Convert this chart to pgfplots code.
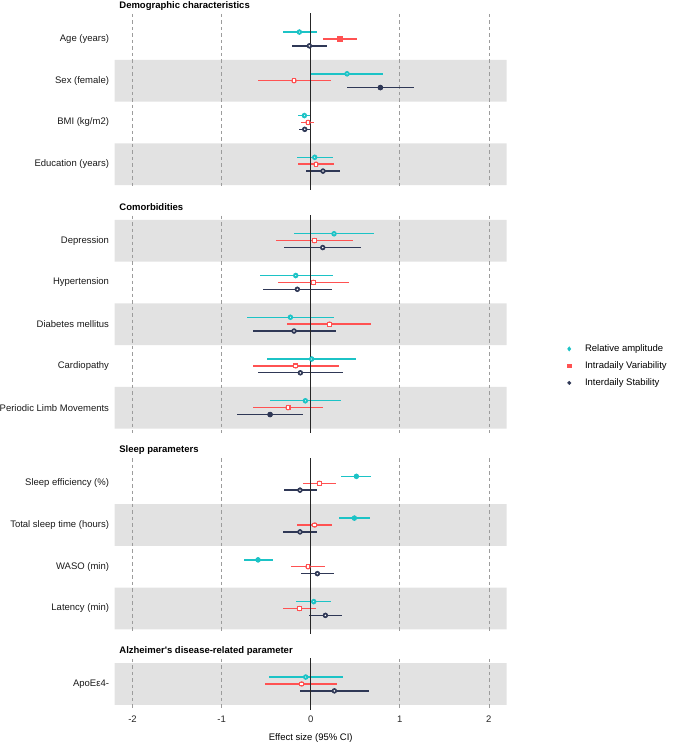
\documentclass[border=0pt]{standalone}
\usepackage{fontspec}
\setmainfont{Liberation Sans}
\usepackage{pgfplots}
\usepackage{pgfplotstable}
\pgfplotsset{compat=1.18}
\definecolor{cy}{HTML}{1CC3C6}
\definecolor{rd}{HTML}{FF5252}
\definecolor{nv}{HTML}{2F3856}
\definecolor{band}{HTML}{E2E2E2}
\definecolor{gridc}{HTML}{9C9C9C}

% row  RelAmp (x lo hi sig)  IntraVar (x lo hi sig)  InterStab (x lo hi sig); sig: 1 = filled marker
\pgfplotstableread{
row cx clo chi cs rx rlo rhi rs nx nlo nhi ns
1 -0.127 -0.314 0.071 0 0.325 0.138 0.520 1 -0.015 -0.210 0.187 0
2 0.408 0.000 0.808 0 -0.187 -0.591 0.224 0 0.782 0.408 1.160 1
3 -0.071 -0.142 -0.007 0 -0.030 -0.105 0.041 0 -0.067 -0.135 -0.007 0
4 0.045 -0.157 0.254 0 0.060 -0.138 0.258 0 0.138 -0.049 0.329 0
}\demo
\pgfplotstableread{
row cx clo chi cs rx rlo rhi rs nx nlo nhi ns
1 0.262 -0.183 0.707 0 0.041 -0.393 0.479 0 0.135 -0.296 0.565 0
2 -0.168 -0.572 0.247 0 0.030 -0.367 0.426 0 -0.150 -0.531 0.243 0
3 -0.228 -0.718 0.262 0 0.210 -0.266 0.681 0 -0.187 -0.651 0.281 0
4 0.011 -0.486 0.509 0 -0.168 -0.643 0.314 0 -0.116 -0.587 0.359 0
5 -0.060 -0.453 0.337 0 -0.254 -0.643 0.138 0 -0.456 -0.823 -0.090 1
}\comor
\pgfplotstableread{
row cx clo chi cs rx rlo rhi rs nx nlo nhi ns
1 0.513 0.340 0.677 1 0.097 -0.090 0.288 0 -0.120 -0.303 0.067 0
2 0.490 0.318 0.662 1 0.045 -0.150 0.243 0 -0.120 -0.310 0.071 0
3 -0.591 -0.744 -0.426 1 -0.030 -0.224 0.157 0 0.075 -0.108 0.262 0
4 0.034 -0.161 0.232 0 -0.127 -0.314 0.064 0 0.165 -0.015 0.348 0
}\sleep
\pgfplotstableread{
row cx clo chi cs rx rlo rhi rs nx nlo nhi ns
1 -0.056 -0.468 0.359 0 -0.101 -0.509 0.299 0 0.266 -0.123 0.655 0
}\alz

\newcommand{\fs}{\fontsize{9.5bp}{11bp}\selectfont}

\pgfplotsset{
  panel/.style={
    scale only axis, width=392bp,
    xmin=-2.2, xmax=2.2, y dir=reverse,
    xtick={-2,-1,0,1,2}, xticklabels={},
    xmajorgrids, ymajorgrids=false,
    major grid style={dash pattern=on 3.5bp off 3bp, color=gridc, line width=0.65bp},
    axis line style={draw=none}, tick style={draw=none},
    yticklabel style={anchor=east, inner sep=0pt, xshift=-5.5bp, font=\fs, text=black!90},
    xticklabel style={anchor=north, inner sep=0pt, yshift=-6.9bp, font=\fs, text=black!85},
    title style={at={(0,1)}, anchor=base west, xshift=4.5bp, yshift=-0.5bp, inner sep=0pt, font=\fs\bfseries},
    set layers,
  },
  bandp/.style={on layer=axis background, fill=band, draw=none, forget plot},
  zline/.style={color=black!85, line width=0.9bp, forget plot},
  bars/.style={only marks, mark=none, forget plot, color=#1, line width=1.4bp,
    error bars/.cd, x dir=both, x explicit, error mark=none,
    error bar style={line width=1.4bp, color=#1}},
  openm/.style 2 args={only marks, forget plot, mark=#2, mark size=1.9bp,
    mark options={draw=#1, fill=white, line width=1.1bp}},
  fillm/.style 2 args={only marks, forget plot, mark=#2, mark size=2.4bp,
    mark options={draw=#1, fill=#1, line width=0.5bp}},
}

% #1 table, #2 x col, #3 lo col, #4 hi col, #5 sig col, #6 offset, #7 colour, #8 mark
\newcommand{\oneseries}[8]{%
  \addplot[bars=#7] table[x=#2, y expr=\thisrow{row}+#6,
    x error plus expr=\thisrow{#4}-\thisrow{#2}, x error minus expr=\thisrow{#2}-\thisrow{#3}] {#1};
  \addplot[openm={#7}{#8}, restrict expr to domain={\thisrow{#5}}{-0.5:0.5}]
    table[x=#2, y expr=\thisrow{row}+#6] {#1};
  \addplot[fillm={#7}{#8}, restrict expr to domain={\thisrow{#5}}{0.5:1.5}]
    table[x=#2, y expr=\thisrow{row}+#6] {#1};
}
\newcommand{\series}[1]{%
  \oneseries{#1}{cx}{clo}{chi}{cs}{-0.165}{cy}{diamond*}
  \oneseries{#1}{rx}{rlo}{rhi}{rs}{0}{rd}{square*}
  \oneseries{#1}{nx}{nlo}{nhi}{ns}{0.165}{nv}{*}
  \addplot[zline] coordinates {(0,-1) (0,10)};
}

\begin{document}
\begin{tikzpicture}

% Panel 1
\begin{axis}[panel, at={(114.7bp,-13.9bp)}, anchor=north west, height=175.35bp,
  ymin=0.4, ymax=4.6, ytick={1,2,3,4},
  yticklabels={Age (years), Sex (female), BMI (kg/m2), Education (years)},
  title={Demographic characteristics}]
  \addplot[bandp] coordinates {(-2.2,1.5) (2.2,1.5) (2.2,2.5) (-2.2,2.5) (-2.2,1.5)};
  \addplot[bandp] coordinates {(-2.2,3.5) (2.2,3.5) (2.2,4.5) (-2.2,4.5) (-2.2,3.5)};
  \series{\demo}
\end{axis}

% Panel 2
\begin{axis}[panel, at={(114.7bp,-215.6bp)}, anchor=north west, height=217.1bp,
  ymin=0.4, ymax=5.6, ytick={1,2,3,4,5},
  yticklabels={Depression, Hypertension, Diabetes mellitus, Cardiopathy, Periodic Limb Movements},
  title={Comorbidities},
  legend style={at={(1.155,0.4067)}, anchor=north west, draw=none, fill=none,
    inner sep=0pt, outer sep=0pt, row sep=8bp,
    nodes={inner sep=0pt, text height=7bp, text depth=2bp, font=\fs},
    /tikz/every odd column/.append style={column sep=14bp}},
  legend cell align=left,
  legend image code/.code={\draw[mark repeat=2,mark phase=2,#1] plot coordinates {(0bp,0bp)(6bp,0bp)(12bp,0bp)};}]
  \addplot[bandp] coordinates {(-2.2,0.5) (2.2,0.5) (2.2,1.5) (-2.2,1.5) (-2.2,0.5)};
  \addplot[bandp] coordinates {(-2.2,2.5) (2.2,2.5) (2.2,3.5) (-2.2,3.5) (-2.2,2.5)};
  \addplot[bandp] coordinates {(-2.2,4.5) (2.2,4.5) (2.2,5.5) (-2.2,5.5) (-2.2,4.5)};
  \series{\comor}
  \addlegendimage{only marks, mark=diamond*, mark size=2.2bp, color=cy}
  \addlegendentry{Relative amplitude}
  \addlegendimage{only marks, mark=square*, mark size=1.7bp, color=rd}
  \addlegendentry{Intradaily Variability}
  \addlegendimage{only marks, mark=*, mark size=1.8bp, color=nv}
  \addlegendentry{Interdaily Stability}
\end{axis}

% Panel 3
\begin{axis}[panel, at={(114.7bp,-458.2bp)}, anchor=north west, height=175.35bp,
  ymin=0.4, ymax=4.6, ytick={1,2,3,4},
  yticklabels={Sleep efficiency (\%), Total sleep time (hours), WASO (min), Latency (min)},
  title={Sleep parameters}]
  \addplot[bandp] coordinates {(-2.2,1.5) (2.2,1.5) (2.2,2.5) (-2.2,2.5) (-2.2,1.5)};
  \addplot[bandp] coordinates {(-2.2,3.5) (2.2,3.5) (2.2,4.5) (-2.2,4.5) (-2.2,3.5)};
  \series{\sleep}
\end{axis}

% Panel 4
\begin{axis}[panel, at={(114.7bp,-658.9bp)}, anchor=north west, height=50.1bp,
  ymin=0.4, ymax=1.6, ytick={1},
  yticklabels={ApoEε4-},
  xticklabels={-2,-1,0,1,2},
  xlabel={Effect size (95\% CI)},
  xlabel style={at={(axis description cs:0.5,0)}, anchor=base, yshift=-31bp, inner sep=0pt, font=\fs},
  title={Alzheimer\textquotesingle s disease-related parameter}]
  \addplot[bandp] coordinates {(-2.2,0.5) (2.2,0.5) (2.2,1.5) (-2.2,1.5) (-2.2,0.5)};
  \series{\alz}
\end{axis}

\pgfresetboundingbox
\path[use as bounding box] (0,0) rectangle (674bp,-743bp);
\end{tikzpicture}
\end{document}
